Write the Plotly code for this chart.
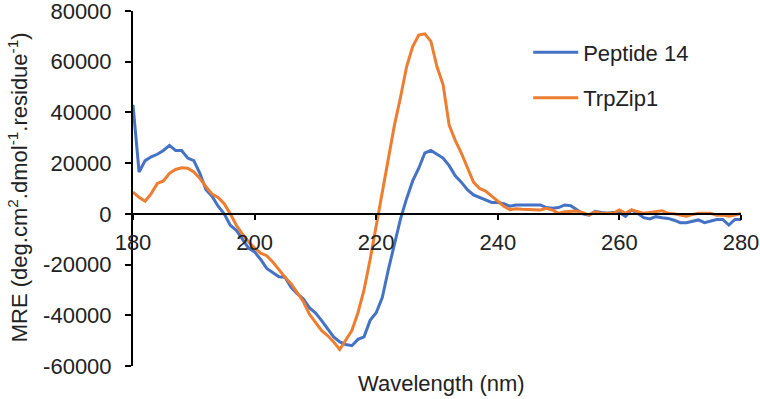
import plotly.graph_objects as go

wavelength = list(range(180, 281))

peptide14 = [
    43000, 16500, 21000, 22500, 23500, 25000, 27000, 25000, 25000, 22000,  # 180-189
    21000, 16000, 9500, 7000, 3000, 0, -4500, -6500, -10000, -13500,       # 190-199
    -15000, -18000, -21500, -23000, -24800, -25000, -29000, -31500, -33500, -37000,  # 200-209
    -39000, -42000, -45500, -48500, -50500, -51500, -52000, -49500, -48500, -42000,  # 210-219
    -39000, -33000, -22000, -12000, -2000, 6000, 13000, 18000, 24000, 25000,  # 220-229
    23500, 22000, 19000, 15000, 12500, 9500, 7500, 6500, 5500, 4500,       # 230-239
    4500, 4000, 3000, 3500, 3500, 3500, 3500, 3500, 2500, 2200,            # 240-249
    2500, 3500, 3200, 1500, 0, -500, 1000, 500, 200, 500,                  # 250-259
    500, -1000, 1500, 200, -1500, -2000, -1100, -1500, -1800, -2500,       # 260-269
    -3500, -3500, -3000, -2400, -3500, -3000, -2200, -2200, -4400, -2200,  # 270-279
    -2200,                                                                 # 280
]

trpzip1 = [
    8600, 6500, 5000, 8000, 12000, 13000, 16000, 17500, 18200, 18000,      # 180-189
    16500, 14000, 10700, 7800, 6500, 4000, 0, -4500, -8000, -11000,        # 190-199
    -13500, -15500, -16500, -19000, -22000, -25000, -27500, -31000, -34500, -39500,  # 200-209
    -43000, -46000, -48000, -50500, -53500, -50000, -46000, -39000, -30000, -18000,  # 210-219
    -5000, 8000, 22000, 35000, 46000, 58000, 66000, 70500, 71000, 68000,   # 220-229
    58000, 51000, 35000, 29000, 24000, 18000, 12500, 10000, 9000, 7000,    # 230-239
    5000, 3000, 1600, 2000, 1800, 1600, 1600, 1500, 2200, 1500,            # 240-249
    200, 800, 900, 1100, 500, -500, 800, 200, 200, 200,                    # 250-259
    1500, 200, 1600, 800, 200, 500, 1000, 1200, 200, 0,                    # 260-269
    -500, -900, -300, 200, 200, 200, -500, -500, -900, -500,               # 270-279
    200,                                                                   # 280
]

y_tickvals = [-60000, -40000, -20000, 0, 20000, 40000, 60000, 80000]
y_ticktext = ["-60000", "-40000", "-20000", "0", "20000", "40000", "60000", "80000"]
x_tickvals = [180, 200, 220, 240, 260, 280]

FONT = "Liberation Sans, Arial, sans-serif"
BLUE = "#4472C4"
ORANGE = "#ED7D31"
TXT = "#222222"
FS = 22

fig = go.Figure()
fig.add_trace(go.Scatter(x=wavelength, y=peptide14, mode="lines", name="Peptide 14",
                         line=dict(color=BLUE, width=3), legendgroup="a"))
fig.add_trace(go.Scatter(x=wavelength, y=trpzip1, mode="lines", name="TrpZip1",
                         line=dict(color=ORANGE, width=3), legendgroup="b"))

fig.update_layout(
    width=760, height=399,
    margin=dict(l=133, r=18.5, t=11, b=33, autoexpand=False),
    paper_bgcolor="white", plot_bgcolor="white",
    font=dict(family=FONT, size=FS, color=TXT),
    showlegend=True,
    legend=dict(x=0.65, y=0.9425, xanchor="left", yanchor="top",
                font=dict(size=FS, color=TXT),
                itemwidth=45,
                tracegroupgap=14, traceorder="grouped",
                bgcolor="rgba(0,0,0,0)"),
    xaxis=dict(range=[180, 280], tickvals=x_tickvals,
               anchor="free", position=60000 / 140000, automargin=False,
               showline=True, linecolor="black", linewidth=2,
               ticks="outside", ticklen=5, tickwidth=2, tickcolor="black",
               showgrid=False, zeroline=False, ticklabelstandoff=4,
               ticklabeloverflow="allow",
               tickfont=dict(size=FS, color=TXT)),
    yaxis=dict(range=[-60000, 80000], tickvals=y_tickvals, ticktext=y_ticktext,
               automargin=False,
               showline=True, linecolor="black", linewidth=2,
               ticks="outside", ticklen=6, tickwidth=2, tickcolor="black",
               showgrid=False, zeroline=False, ticklabelstandoff=9,
               ticklabeloverflow="allow",
               tickfont=dict(size=FS, color=TXT)),
    annotations=[
        dict(text="Wavelength (nm)", xref="paper", yref="paper",
             x=0.507, y=-0.048, xanchor="center", yanchor="middle",
             showarrow=False, font=dict(size=FS, color=TXT)),
        dict(text="MRE (deg.cm<sup>2</sup>.dmol<sup>-1</sup>.residue<sup>-1</sup>)",
             xref="paper", yref="paper", x=-0.19, y=0.505,
             xanchor="center", yanchor="middle", textangle=-90,
             showarrow=False, font=dict(size=FS, color=TXT)),
    ],
)

# Remove the browser's default 8px body margin so the figure fills the window.
fig.write_html("out.html",
               config={"displayModeBar": False},
               post_script="document.body.style.margin='0';document.body.style.overflow='hidden';")
